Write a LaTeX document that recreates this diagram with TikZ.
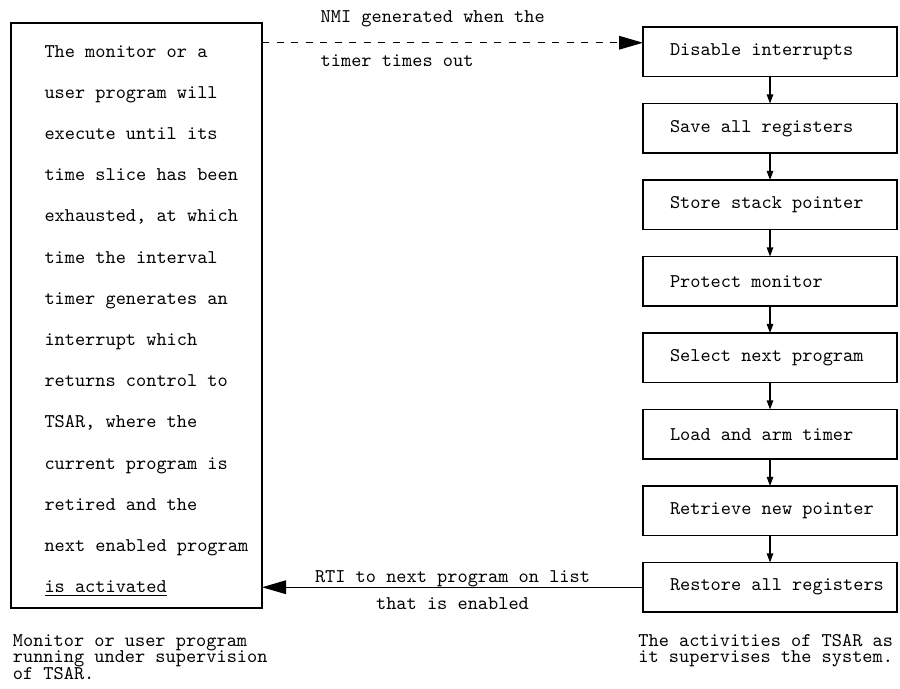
\documentclass[tikz,border=0pt]{standalone}
\usepackage{tikz}
\usetikzlibrary{arrows.meta,positioning}

\begin{document}
\begin{tikzpicture}[x=0.5pt,y=-0.5pt,font=\ttfamily\fontsize{9.7}{9.7}\selectfont]

\tikzstyle{stage} = [draw, rectangle, line width=0.6pt, outer sep=0pt, minimum width=127pt, minimum height=24.75pt, text width=118pt, inner xsep=4.5pt, align=flush left, execute at begin node={\ttfamily\fontsize{9.7}{9.7}\selectfont\hspace*{9pt}}]
\tikzstyle{caption} = [inner sep=0pt, align=left, font=\ttfamily\fontsize{9.7}{8.25}\selectfont\lineskiplimit-10pt\relax]
\tikzstyle{flow} = [line width=0.6pt, -{Triangle[length=4.5pt,width=3.2pt]}]
\tikzstyle{bigtip} = [line width=0.7pt, -{Triangle[length=12pt,width=6.8pt]}]

\useasboundingbox (0,0) rectangle (900,689);

% user program side
\node [draw, line width=0.6pt, outer sep=0pt, minimum width=125.5pt, minimum height=292.5pt, text width=114pt, inner xsep=5.75pt, align=flush left,
  execute at begin node={\ttfamily\fontsize{9.7}{20.6}\selectfont\leftskip11pt},
  execute at end node={\par\vspace*{-5.5pt}}] (monitor) at (136.5,315.5)
  {The monitor or a\\ user program will\\ execute until its\\ time slice has been\\ exhausted, at which\\ time the interval\\ timer generates an\\ interrupt which\\ returns control to\\ TSAR, where the\\ current program is\\ retired and the\\ next enabled program\\ \underline{is activated}};
\node [caption, below right = 13pt and 0.75pt of monitor.south west] (monitor-caption) {Monitor or user program\\ running under supervision\\ of TSAR.};

% TSAR side
\node [stage] (disable) at (770,51.75) {Disable interrupts};
\node [stage, below = 13.5pt of disable] (save) {Save all registers};
\node [stage, below = 13.5pt of save] (store) {Store stack pointer};
\node [stage, below = 13.5pt of store] (protect) {Protect monitor};
\node [stage, below = 13.5pt of protect] (select) {Select next program};
\node [stage, below = 13.5pt of select] (load) {Load and arm timer};
\node [stage, below = 13.5pt of load] (retrieve) {Retrieve new pointer};
\node [stage, below = 13.5pt of retrieve] (restore) {Restore all registers};
\node [caption, below right = 11pt and -2.5pt of restore.south west] (tsar-caption) {The activities of TSAR as\\ it supervises the system.};

\foreach \a/\b in {disable/save, save/store, store/protect, protect/select, select/load, load/retrieve, retrieve/restore}
  \draw [flow] (\a) -- (\b);

\coordinate (nmi-tip) at ([yshift=4.5pt]disable.west);
\draw [bigtip, line width=0.6pt, dash pattern=on 3.5pt off 3.75pt] (nmi-tip -| monitor.east) -- node[pos=0.135, anchor=west, yshift=12.2pt] {NMI generated when the} node[pos=0.135, anchor=west, yshift=-8.8pt] {timer times out} (nmi-tip);
\draw [bigtip] (restore.west) -- node[midway, yshift=4pt] {RTI to next program on list} node[midway, yshift=-8pt] {that is enabled} (restore.west -| monitor.east);

\end{tikzpicture}
\end{document}
